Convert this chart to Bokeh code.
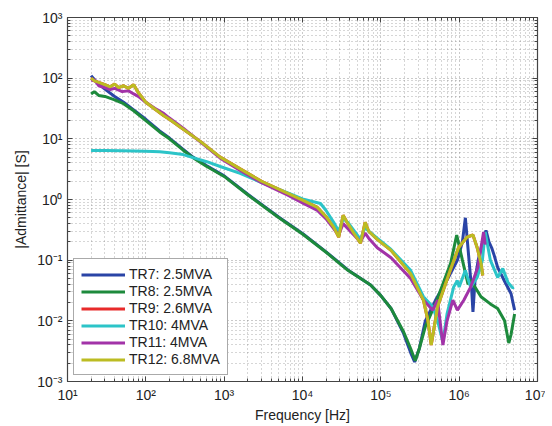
from bokeh.plotting import figure
from bokeh.models import (FixedTicker, CustomJSTickFormatter, LogAxis, Legend, LegendItem)
from bokeh.embed import file_html
from bokeh.resources import INLINE

# ---- data ----
names = ["TR7: 2.5MVA", "TR8: 2.5MVA", "TR9: 2.6MVA", "TR10: 4MVA", "TR11: 4MVA", "TR12: 6.8MVA"]
colors = ["#2a44a6", "#1d8a3c", "#e82a2a", "#2cc4c8", "#a233a8", "#bcbc22"]

f_tr7 = [20, 22, 25, 30, 40, 52, 70, 100, 150, 200, 300, 400, 600, 1e3, 2e3, 5e3, 1e4, 2e4, 3.8e4, 7.4e4,
         1e5, 1.35e5, 1.95e5, 2.4e5, 2.7e5, 3.1e5, 3.7e5, 5e5, 7e5, 9.5e5, 1.1e6, 1.2e6, 1.3e6, 1.45e6,
         1.5e6, 1.6e6, 1.75e6, 2e6, 2.2e6, 2.4e6, 2.6e6, 2.8e6, 3.1e6, 3.8e6, 4.6e6, 5.1e6]
y_tr7 = [110, 95, 80, 66, 50, 40, 30, 21, 13.5, 10.3, 6.7, 5.0, 3.6, 2.45, 1.22, 0.51, 0.275, 0.137, 0.069, 0.039,
         0.026, 0.016, 0.0062, 0.003, 0.0021, 0.0035, 0.01, 0.022, 0.047, 0.1, 0.2, 0.5, 0.15, 0.03,
         0.014, 0.05, 0.1, 0.2, 0.31, 0.2, 0.16, 0.12, 0.076, 0.045, 0.028, 0.015]

f_tr8 = [20, 22, 25, 30, 40, 52, 70, 100, 150, 200, 300, 400, 600, 1e3, 2e3, 5e3, 1e4, 2e4, 3.8e4, 7.4e4,
         1e5, 1.35e5, 1.95e5, 2.4e5, 2.75e5, 3.1e5, 3.7e5, 5.2e5, 7.8e5, 9.3e5, 1.1e6, 1.3e6, 1.4e6, 1.9e6,
         2.5e6, 3.1e6, 3.8e6, 4.3e6, 4.6e6, 5.1e6]
y_tr8 = [55, 60, 52, 50, 44, 38, 29, 20, 13, 10, 6.5, 4.9, 3.5, 2.4, 1.2, 0.5, 0.27, 0.135, 0.068, 0.039,
         0.026, 0.016, 0.0066, 0.0035, 0.0022, 0.0035, 0.008, 0.022, 0.09, 0.26, 0.1, 0.04, 0.047, 0.025,
         0.019, 0.016, 0.01, 0.0043, 0.006, 0.013]

f_tr9 = [20, 22, 25, 30, 35, 40, 45, 52, 60, 70, 80, 100, 130, 170, 200, 277, 500, 890, 1.6e3, 3e3, 6.5e3,
         1e4, 1.55e4, 2e4, 2.5e4, 2.9e4, 3.3e4, 3.8e4, 4.5e4, 5.5e4, 6.3e4, 7e4, 9e4, 1.35e5, 2.4e5, 3.5e5,
         4e5, 4.4e5, 5.3e5, 7.7e5, 9.8e5, 1.26e6, 1.5e6, 1.7e6, 1.9e6, 2e6]
y_tr9 = [100, 90, 85, 78, 72, 80, 70, 75, 68, 78, 58, 40, 31, 24, 21, 15.5, 9, 5, 3.2, 2.0, 1.26,
         0.98, 0.74, 0.52, 0.35, 0.24, 0.55, 0.4, 0.28, 0.19, 0.42, 0.3, 0.22, 0.145, 0.06, 0.022,
         0.01, 0.004, 0.017, 0.068, 0.16, 0.24, 0.26, 0.16, 0.089, 0.056]

f_tr10 = [20, 30, 50, 100, 150, 200, 300, 400, 600, 890, 1.6e3, 3e3, 6.5e3, 1e4, 1.7e4, 2e4, 2.5e4, 2.9e4,
          3.3e4, 3.8e4, 5.5e4, 6.3e4, 7e4, 9e4, 1.35e5, 2.4e5, 3.5e5, 4.6e5, 5.3e5, 6.2e5, 7e5, 8.5e5,
          9.5e5, 1.0e6, 1.2e6, 1.4e6, 1.7e6, 1.98e6, 2.15e6, 2.5e6, 3.1e6, 3.6e6, 4.2e6, 4.8e6, 5e6]
y_tr10 = [6.4, 6.4, 6.35, 6.25, 6.1, 5.9, 5.5, 4.9, 4.2, 3.5, 2.7, 1.9, 1.28, 1.02, 0.86, 0.66, 0.42, 0.3,
          0.48, 0.42, 0.22, 0.35, 0.3, 0.23, 0.15, 0.068, 0.025, 0.017, 0.01, 0.0045, 0.013, 0.036,
          0.046, 0.036, 0.068, 0.036, 0.052, 0.1, 0.29, 0.1, 0.052, 0.073, 0.043, 0.035, 0.036]

f_tr11 = [20, 22, 25, 30, 35, 40, 50, 60, 70, 80, 100, 130, 170, 200, 300, 500, 890, 1.6e3, 3e3, 6.5e3,
          1e4, 1.55e4, 2e4, 2.5e4, 2.9e4, 3.3e4, 3.8e4, 5.5e4, 6.3e4, 7e4, 9e4, 1.35e5, 2.4e5, 3.5e5,
          4.6e5, 5.3e5, 6.2e5, 7e5, 8.3e5, 9.5e5, 1.15e6, 1.4e6, 1.73e6, 2.05e6, 2.15e6]
y_tr11 = [90, 95, 75, 70, 65, 68, 60, 62, 55, 50, 40, 32, 26, 22, 15, 8.8, 4.8, 3.0, 1.9, 1.18,
          0.88, 0.66, 0.48, 0.33, 0.26, 0.4, 0.33, 0.2, 0.28, 0.23, 0.16, 0.11, 0.05, 0.022,
          0.015, 0.022, 0.004, 0.01, 0.022, 0.015, 0.022, 0.036, 0.076, 0.29, 0.18]

f_tr12 = list(f_tr9)
y_tr12 = [100, 90, 85, 78, 72, 80, 70, 75, 68, 78, 58, 40, 31, 24, 21, 15.5, 9, 5, 3.2, 2.0, 1.26,
          0.98, 0.74, 0.52, 0.35, 0.24, 0.55, 0.4, 0.28, 0.19, 0.42, 0.3, 0.22, 0.145, 0.06, 0.022,
          0.01, 0.004, 0.017, 0.068, 0.16, 0.24, 0.26, 0.16, 0.089, 0.056]

x_major = [1e1, 1e2, 1e3, 1e4, 1e5, 1e6, 1e7]
y_major = [1e-3, 1e-2, 1e-1, 1e0, 1e1, 1e2, 1e3]

series = [(f_tr7, y_tr7), (f_tr8, y_tr8), (f_tr9, y_tr9), (f_tr10, y_tr10), (f_tr11, y_tr11), (f_tr12, y_tr12)]

FONT = "Liberation Sans"


def minors(majors):
    out = []
    for m in majors[:-1]:
        out += [m * k for k in range(2, 10)]
    return out


W, H = 545, 426
p = figure(width=W, height=H, x_axis_type="log", y_axis_type="log",
           x_range=(1e1, 1e7), y_range=(1e-3, 1e3),
           output_backend="svg", toolbar_location=None,
           min_border_left=67, min_border_right=W - 537, min_border_top=17, min_border_bottom=H - 381)
p.background_fill_color = "white"
p.border_fill_color = "white"
p.outline_line_color = "#444444"
p.outline_line_width = 1.2

xt = FixedTicker(ticks=x_major, minor_ticks=minors(x_major))
yt = FixedTicker(ticks=y_major, minor_ticks=minors(y_major))

sup_code = """
const sup = {"-":"\u207b","0":"\u2070","1":"\u00b9","2":"\u00b2","3":"\u00b3","4":"\u2074",
             "5":"\u2075","6":"\u2076","7":"\u2077","8":"\u2078","9":"\u2079"};
const e = Math.round(Math.log10(tick));
return "10" + String(e).split("").map(c => sup[c]).join("");
"""
fmt = CustomJSTickFormatter(code=sup_code)
blank = CustomJSTickFormatter(code="return '';")

for ax, t in ((p.xaxis[0], xt), (p.yaxis[0], yt)):
    ax.ticker = t
    ax.formatter = fmt
    ax.major_label_text_font = FONT
    ax.major_label_text_font_size = "14px"
    ax.major_label_text_color = "#222222"
    ax.axis_label_text_font = FONT
    ax.axis_label_text_font_size = "14px"
    ax.axis_label_text_font_style = "normal"
    ax.axis_label_text_color = "#222222"
    ax.axis_line_color = "#444444"
    ax.major_tick_in = 5
    ax.major_tick_out = 0
    ax.minor_tick_in = 3
    ax.minor_tick_out = 0
    ax.major_tick_line_color = "#444444"
    ax.minor_tick_line_color = "#444444"

p.xaxis.axis_label = "Frequency [Hz]"
p.yaxis.axis_label = "|Admittance| [S]"
p.xaxis.major_label_standoff = 5
p.xaxis.axis_label_standoff = 1
p.yaxis.major_label_standoff = 5
p.yaxis.axis_label_standoff = 5

for side, t in (("right", yt), ("above", xt)):
    ax = LogAxis(ticker=t, formatter=blank, major_label_text_font_size="1px",
                 major_label_standoff=0, axis_line_color="#444444",
                 major_tick_in=5, major_tick_out=0, minor_tick_in=3, minor_tick_out=0,
                 major_tick_line_color="#444444", minor_tick_line_color="#444444")
    p.add_layout(ax, side)

for g, t in ((p.xgrid[0], xt), (p.ygrid[0], yt)):
    g.ticker = t
    g.grid_line_color = "#666666"
    g.grid_line_dash = "1 3"
    g.grid_line_alpha = 0.7
    g.minor_grid_line_color = "#777777"
    g.minor_grid_line_dash = "1 3"
    g.minor_grid_line_alpha = 0.6

items = []
for (fx, fy), name, c in zip(series, names, colors):
    r = p.line(fx, fy, line_color=c, line_width=3)
    items.append(LegendItem(label=name, renderers=[r]))

legend = Legend(items=items, location=(6, 6))
legend.label_text_font = FONT
legend.label_text_font_size = "14px"
legend.label_text_color = "#222222"
legend.glyph_width = 44
legend.glyph_height = 15
legend.label_height = 15
legend.spacing = 1
legend.padding = 7
legend.margin = 0
legend.label_standoff = 4
legend.border_line_color = "#555555"
legend.border_line_width = 1.5
legend.background_fill_color = "white"
legend.background_fill_alpha = 1.0
p.add_layout(legend, "center")

open("out.html", "w").write(file_html(p, INLINE))
